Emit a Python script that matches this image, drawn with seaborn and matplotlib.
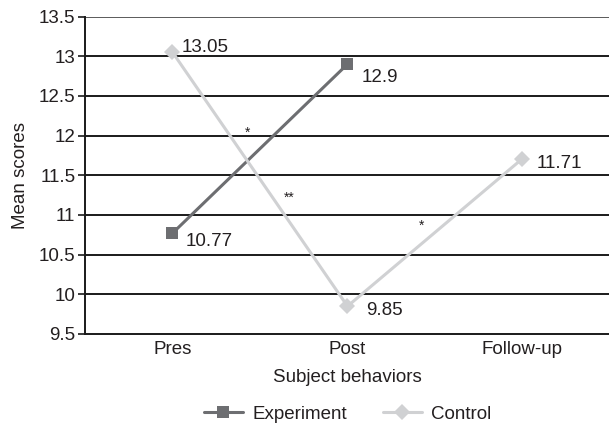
import pandas as pd
import matplotlib
matplotlib.use("Agg")
import matplotlib.pyplot as plt
import seaborn as sns
import numpy as np

# Chart data
phases = ["Pres", "Post", "Follow-up"]
experiment = [10.77, 12.9, np.nan]
control = [13.05, 9.85, 11.71]
exp_labels = ["10.77", "12.9", None]
ctl_labels = ["13.05", "9.85", "11.71"]
# significance marks: (x position, y value, text)
star_x = [0.43, 0.666, 1.424]
star_y = [12.04, 11.22, 10.86]
star_txt = ["*", "**", "*"]
y_ticks = [9.5, 10, 10.5, 11, 11.5, 12, 12.5, 13, 13.5]

EXP_COLOR = "#6d6e71"
CTL_COLOR = "#d0d1d3"
FS = 13.5

sns.set_style("white")
plt.rcParams['font.family'] = ['Liberation Sans', 'DejaVu Sans']
plt.rcParams['font.size'] = FS

df = pd.DataFrame({
    "x": list(range(len(phases))) * 2,
    "score": experiment + control,
    "group": ["Experiment"] * len(phases) + ["Control"] * len(phases),
})

fig = plt.figure(figsize=(6.09, 4.26), dpi=100)
ax = fig.add_axes([85 / 609, 1 - 334 / 426, 525 / 609, 317.5 / 426])

# grid lines
for t in y_ticks[1:]:
    ax.axhline(t, color="#5a5a5a" if t == 13.5 else "#1a1a1a", lw=1.4, zorder=1)

sns.lineplot(data=df, x="x", y="score", hue="group", style="group",
             palette={"Experiment": EXP_COLOR, "Control": CTL_COLOR},
             markers={"Experiment": "s", "Control": "D"}, dashes=False,
             linewidth=2.2, markersize=8.5, markeredgewidth=0,
             legend=False, ax=ax, zorder=3)

# data labels
exp_off = [(13, -8), (14.5, -13.5), None]
ctl_off = [(9.5, 5), (19, -4.5), (14, -5)]
for i in range(len(phases)):
    if exp_labels[i] is not None:
        ax.annotate(exp_labels[i], (i, experiment[i]), xytext=exp_off[i],
                    textcoords="offset pixels", ha="left", va="center",
                    color="#231f20", fontsize=FS)
    ax.annotate(ctl_labels[i], (i, control[i]), xytext=ctl_off[i],
                textcoords="offset pixels", ha="left", va="center",
                color="#231f20", fontsize=FS)

for sx, sy, st in zip(star_x, star_y, star_txt):
    ax.text(sx, sy, st, ha="center", va="center", fontsize=10, color="#231f20")

ax.set_xlim(-0.5, 2.5)
ax.set_ylim(9.5, 13.5)
ax.set_yticks(y_ticks)
ax.set_yticklabels([f"{t:g}" for t in y_ticks])
ax.set_xticks(range(len(phases)))
ax.set_xticklabels(phases)
ax.set_xticks([-0.5, 0.5, 1.5], minor=True)
ax.tick_params(axis="x", which="major", length=0, pad=5, labelsize=FS, labelcolor="#231f20")
ax.tick_params(axis="x", which="minor", length=5, width=1.2, color="#1a1a1a", direction="out")
ax.tick_params(axis="y", length=5, width=1.2, color="#1a1a1a", direction="out", left=True,
               labelsize=FS, pad=2, labelcolor="#231f20")

for side in ["top", "right"]:
    ax.spines[side].set_visible(False)
for side in ["left", "bottom"]:
    ax.spines[side].set_color("#1a1a1a")
    ax.spines[side].set_linewidth(1.4)

ax.set_xlabel("Subject behaviors", fontsize=FS, labelpad=8, color="#231f20")
ax.set_ylabel("Mean scores", fontsize=FS, labelpad=7, color="#231f20")

handles = [
    plt.Line2D([], [], color=EXP_COLOR, lw=2.2, marker="s", markersize=8.5, markeredgewidth=0),
    plt.Line2D([], [], color=CTL_COLOR, lw=2.2, marker="D", markersize=8.5, markeredgewidth=0),
]
fig.legend(handles, ["Experiment", "Control"], loc="center",
           bbox_to_anchor=((85 + 610) / 2 / 609, 1 - 414 / 426),
           ncol=2, frameon=False, fontsize=FS, handlelength=2.1, columnspacing=1.9,
           handletextpad=0.5, labelcolor="#231f20")

fig.savefig("out.png", dpi=100)
